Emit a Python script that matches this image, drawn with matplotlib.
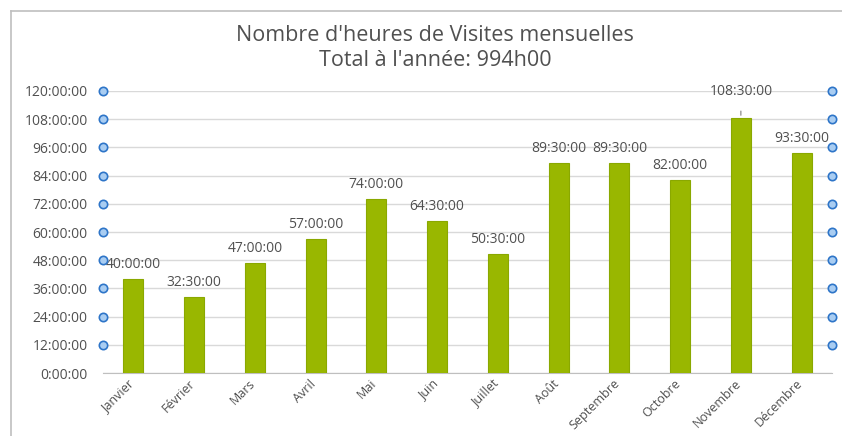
import matplotlib
matplotlib.use("Agg")
import matplotlib.pyplot as plt
from matplotlib.lines import Line2D

# data
mois = ["Janvier", "Février", "Mars", "Avril", "Mai", "Juin", "Juillet",
        "Août", "Septembre", "Octobre", "Novembre", "Décembre"]
heures = [40.0, 32.5, 47.0, 57.0, 74.0, 64.5, 50.5, 89.5, 89.5, 82.0, 108.5, 93.5]
yticks = [0, 12, 24, 36, 48, 60, 72, 84, 96, 108, 120]
titre = "Nombre d'heures de Visites mensuelles\nTotal à l'année: 994h00"


def hms(v):
    h = int(v)
    m = int(round((v - h) * 60))
    return "%d:%02d:00" % (h, m)


plt.rcParams['font.family'] = ['Open Sans', 'DejaVu Sans']
gris = "#505050"

fig = plt.figure(figsize=(8.42, 4.36), dpi=100)
ax = fig.add_axes([103 / 842, 1 - 373 / 436, (832 - 103) / 842, (373 - 91) / 436])

x = range(len(mois))
bars = ax.bar(x, heures, width=0.33, color="#99b700", edgecolor="#8aa800", linewidth=0.8, zorder=3)

ax.set_xlim(-0.5, len(mois) - 0.5)
ax.set_ylim(0, 120)
ax.set_yticks(yticks)
ax.set_yticklabels([hms(t) for t in yticks])
ax.set_xticks(list(x))
ax.set_xticklabels(mois, rotation=45, ha="right", rotation_mode="anchor")

ax.tick_params(axis="y", length=0, pad=11, labelsize=10, labelcolor=gris)
ax.tick_params(axis="x", length=0, pad=3, labelsize=9, labelcolor=gris)
for lbl in ax.get_xticklabels():
    lbl.set_transform(lbl.get_transform() + matplotlib.transforms.ScaledTranslation(-6 / 100, 0, fig.dpi_scale_trans))

ax.grid(axis="y", color="#d9d9d9", linewidth=1, zorder=0)
for s in ["top", "right", "left"]:
    ax.spines[s].set_visible(False)
ax.spines["bottom"].set_color("#bfbfbf")

# data labels
for i, v in enumerate(heures):
    if mois[i] == "Novembre":
        ax.annotate(hms(v), (i, v), xytext=(0, 14), textcoords="offset points",
                    ha="center", va="bottom", fontsize=10, color=gris)
        ax.annotate("", (i, v), xytext=(0, 7), textcoords="offset points",
                    arrowprops=dict(arrowstyle="-", color="#7f7f7f", lw=0.8))
    else:
        ax.annotate(hms(v), (i, v), xytext=(0, 5), textcoords="offset points",
                    ha="center", va="bottom", fontsize=10, color=gris)

# selection handles at both ends of the gridlines
for t in yticks[1:]:
    for xa in (0.0, 1.0):
        ax.plot([xa], [t], marker="o", markersize=6, markerfacecolor="#a9cdf2",
                markeredgecolor="#2e75c8", markeredgewidth=1.2, clip_on=False,
                transform=ax.get_yaxis_transform(), zorder=5)

fig.text(435 / 842, 1 - 48 / 436, titre, ha="center", va="center", fontsize=15.5,
         color=gris, linespacing=1.2)

# chart frame (top and left border only visible)
fig.add_artist(Line2D([11 / 842, 11 / 842], [0, 1 - 11 / 436], transform=fig.transFigure,
                      color="#bfbfbf", linewidth=1.2))
fig.add_artist(Line2D([11 / 842, 1], [1 - 11 / 436, 1 - 11 / 436], transform=fig.transFigure,
                      color="#bfbfbf", linewidth=1.2))

fig.savefig("out.png", dpi=100)
